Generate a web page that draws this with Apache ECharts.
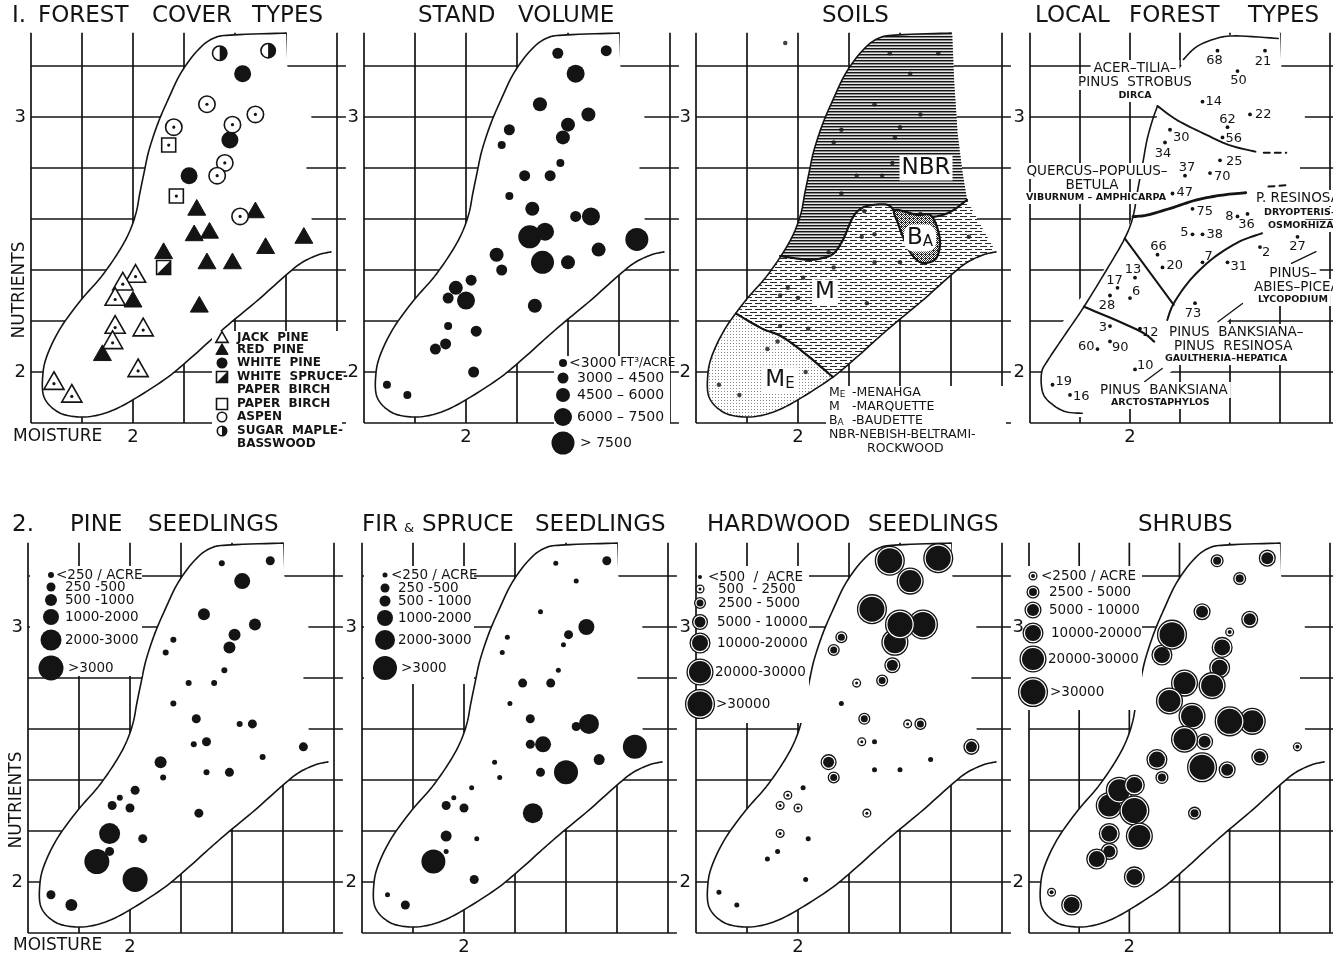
<!DOCTYPE html>
<html>
<head>
<meta charset="utf-8">
<title>Forest cover, stand volume, soils and regeneration on a moisture–nutrient grid</title>
<script src="https://cdn.jsdelivr.net/npm/echarts@6.0.0/dist/echarts.min.js"></script>
<style>
  html, body { margin: 0; padding: 0; background: #fff; }
  #chart { width: 1333px; height: 956px; }
</style>
</head>
<body>
<div id="chart"></div>
<script>
// ---------- axes ----------
const MOISTURE_TICKS = [1.6, 1.8, 2.0, 2.2, 2.4, 2.6, 2.8];
const NUTRIENT_TICKS = [1.8, 2.0, 2.2, 2.4, 2.6, 2.8, 3.0, 3.2];
const MOISTURE_TICK_LABELS = { '2': '2' };
const NUTRIENT_TICK_LABELS = { '2': '2', '3': '3' };

// ---------- outline of the sampled range [moisture, nutrients] ----------
const ENVELOPE = [[2.600,3.329],[2.396,3.322],[2.318,3.310],[2.255,3.263],[2.188,3.173],[2.137,3.067],
  [2.098,2.976],[2.063,2.871],[2.043,2.780],[2.027,2.702],[2.012,2.624],[1.984,2.545],[1.941,2.467],
  [1.875,2.373],[1.796,2.282],[1.718,2.176],[1.667,2.075],[1.647,1.996],[1.651,1.902],[1.706,1.843],
  [1.784,1.824],[1.863,1.831],[1.941,1.859],[2.031,1.910],[2.137,1.980],[2.227,2.055],[2.318,2.137],
  [2.396,2.204],[2.490,2.282],[2.592,2.373],[2.659,2.427],[2.725,2.459],[2.776,2.471]];
const ENVELOPE_CLOSURE = [[2.70,2.60],[2.68,2.80],[2.70,3.00],[2.605,3.20]];

// ---------- 1. forest cover types ----------
const JACK_PINE = [[2.01,2.38],[1.96,2.35],[1.93,2.29],[1.93,2.18],[2.04,2.17],[1.92,2.12],[2.02,2.01],[1.69,1.96],[1.76,1.91]];
const RED_PINE = [[2.25,2.64],[2.48,2.63],[2.24,2.54],[2.30,2.55],[2.12,2.47],[2.67,2.53],[2.52,2.49],[2.29,2.43],[2.39,2.43],[2.26,2.26],[2.00,2.28],[1.88,2.07]];
const WHITE_PINE = [[2.43,3.17],[2.38,2.91],[2.22,2.77]];
const SPRUCE_BIRCH = [[2.12,2.41]];
const PAPER_BIRCH = [[2.14,2.89],[2.17,2.69]];
const ASPEN = [[2.29,3.05],[2.48,3.01],[2.16,2.96],[2.39,2.97],[2.36,2.82],[2.33,2.77],[2.42,2.61]];
const MAPLE_BASSWOOD = [[2.34,3.25],[2.53,3.26]];
const COVER_NAMES = ['JACK PINE','RED PINE','WHITE PINE','WHITE SPRUCE–PAPER BIRCH','PAPER BIRCH','ASPEN','SUGAR MAPLE–BASSWOOD'];
const COVER_DATA = [JACK_PINE, RED_PINE, WHITE_PINE, SPRUCE_BIRCH, PAPER_BIRCH, ASPEN, MAPLE_BASSWOOD];

// ---------- stand volume [moisture, nutrients, class] ----------
const VOLUME_CLASSES = ['<3000', '3000 – 4500', '4500 – 6000', '6000 – 7500', '> 7500'];
const STAND_VOLUME = [[2.36,3.25,1],[2.55,3.26,1],[2.43,3.17,3],[2.29,3.05,2],[2.48,3.01,2],[2.17,2.95,1],[2.14,2.89,0],
  [2.40,2.97,2],[2.38,2.92,2],[2.37,2.82,0],[2.23,2.77,1],[2.33,2.77,1],[2.17,2.69,0],[2.26,2.64,2],[2.43,2.61,1],
  [2.49,2.61,3],[2.25,2.53,4],[2.31,2.55,3],[2.67,2.52,4],[2.12,2.46,2],[2.30,2.43,4],[2.40,2.43,2],[2.52,2.48,2],
  [2.14,2.40,1],[2.02,2.36,1],[1.96,2.33,2],[1.93,2.29,1],[2.00,2.28,3],[2.27,2.26,2],[1.93,2.18,0],[2.04,2.16,1],
  [1.92,2.11,1],[1.88,2.09,1],[2.03,2.00,1],[1.69,1.95,0],[1.77,1.91,0]];

// ---------- soils ----------
const SOIL_PLOTS = [[1.95,3.29],[2.36,3.25],[2.55,3.25],[2.44,3.17],[2.30,3.05],[2.48,3.01],[2.17,2.95],[2.40,2.96],
  [2.38,2.92],[2.14,2.90],[2.37,2.82],[2.23,2.77],[2.33,2.77],[2.17,2.70],[2.26,2.63],[2.48,2.62],[2.25,2.53],
  [2.30,2.54],[2.67,2.53],[2.12,2.47],[2.30,2.43],[2.40,2.43],[2.14,2.41],[2.02,2.37],[1.96,2.33],[1.93,2.30],
  [2.00,2.29],[2.27,2.27],[1.93,2.18],[2.04,2.17],[1.92,2.12],[1.88,2.09],[2.03,2.00],[1.69,1.95],[1.77,1.91]];
const SOIL_RIGHT_EDGE = [[2.72,2.57],[2.663,2.675],[2.642,2.805],[2.626,2.936],[2.613,3.13],[2.605,3.32]];
const NBR_LOWER_EDGE = [[1.93,2.455],[2.04,2.44],[2.10,2.448],[2.14,2.465],[2.176,2.518],[2.216,2.608],[2.251,2.643],
  [2.294,2.655],[2.353,2.655],[2.388,2.624],[2.427,2.624],[2.471,2.608],[2.529,2.608],[2.596,2.627],[2.663,2.675]];
const NBR_RIGHT_EDGE = [[2.642,2.805],[2.626,2.936],[2.613,3.13],[2.605,3.32]];
const MENAHGA_EDGE = [[1.757,2.229],[1.858,2.171],[1.936,2.139],[2.027,2.073],[2.137,1.980]];
const BAUDETTE_OUTLINE = [[2.380,2.635],[2.467,2.616],[2.518,2.616],[2.545,2.569],[2.557,2.506],[2.545,2.451],
  [2.518,2.431],[2.478,2.431],[2.439,2.471],[2.412,2.529],[2.392,2.584]];

// ---------- local forest types [moisture, nutrients, stand number] ----------
const LOCAL_STANDS = [[2.35,3.26,68],[2.54,3.26,21],[2.43,3.18,50],[2.29,3.06,14],[2.39,2.96,62],[2.48,3.01,22],
  [2.37,2.92,56],[2.16,2.95,30],[2.14,2.90,34],[2.36,2.83,25],[2.22,2.77,37],[2.32,2.78,70],[2.17,2.70,47],
  [2.25,2.64,75],[2.43,2.61,8],[2.47,2.62,36],[2.25,2.54,5],[2.29,2.54,38],[2.67,2.53,27],[2.11,2.46,66],
  [2.52,2.49,2],[2.13,2.41,20],[2.29,2.43,7],[2.39,2.43,31],[2.02,2.37,13],[1.95,2.33,17],[2.00,2.29,6],
  [1.92,2.30,28],[2.26,2.27,73],[1.92,2.18,3],[2.04,2.17,12],[1.87,2.09,60],[1.92,2.12,90],[2.02,2.01,10],
  [1.69,1.95,19],[1.76,1.91,16]];
const LFT_TOP_EDGE = [[2.214,3.226],[2.267,3.276],[2.345,3.308],[2.424,3.318],[2.593,3.308]];
const LFT_ACER_EDGE = [[2.502,2.864],[2.397,2.890],[2.293,2.936],[2.188,2.988],[2.110,3.043]];
const LFT_LEFT_EDGE = [[2.110,3.043],[2.090,2.988],[2.068,2.910],[2.051,2.818],[2.032,2.72],[2.012,2.609],
  [1.979,2.524],[1.914,2.413],[1.816,2.256],[1.744,2.152],[1.672,2.047],[1.646,1.995],[1.652,1.916],
  [1.692,1.871],[1.744,1.844],[1.809,1.838]];
const LFT_RESINOSA_EDGE = [[2.012,2.609],[2.071,2.616],[2.162,2.642],[2.267,2.675],[2.371,2.694],[2.463,2.703]];
const LFT_DIVIDE_A = [[1.979,2.524],[2.175,2.263]];
const LFT_DIVIDE_B = [[1.816,2.256],[2.031,2.165],[2.097,2.119]];
const LFT_BANKSIANA_EDGE = [[2.149,2.204],[2.175,2.269],[2.241,2.361],[2.332,2.446],[2.437,2.511],[2.528,2.544]];
const LFT_DASH_UPPER = [[2.535,2.860],[2.625,2.860]];
const LFT_DASH_LOWER = [[2.554,2.727],[2.633,2.733]];
const LFT_LEADERS = [[[2.646,2.426],[2.744,2.472]], [[2.352,2.197],[2.450,2.269]], [[2.058,1.962],[2.129,2.014]]];

// ---------- 2. pine seedlings [moisture, nutrients, class] ----------
const PINE_CLASSES = ['<250 / ACRE', '250 -500', '500 -1000', '1000-2000', '2000-3000', '>3000'];
const PINE_SEEDLINGS = [[2.36,3.25,0],[2.55,3.26,1],[2.44,3.18,3],[2.29,3.05,2],[2.49,3.01,2],[2.17,2.95,0],[2.41,2.97,2],
  [2.39,2.92,2],[2.14,2.90,0],[2.37,2.83,0],[2.23,2.78,0],[2.33,2.78,0],[2.17,2.70,0],[2.26,2.64,1],[2.43,2.62,0],
  [2.48,2.62,1],[2.25,2.54,0],[2.30,2.55,1],[2.68,2.53,1],[2.12,2.47,2],[2.52,2.49,0],[2.13,2.41,0],[2.30,2.43,0],
  [2.39,2.43,1],[2.02,2.36,1],[1.96,2.33,0],[1.93,2.30,1],[2.00,2.29,1],[2.27,2.27,1],[1.92,2.12,1],[1.92,2.19,4],
  [1.87,2.08,5],[2.02,2.01,5],[2.05,2.17,1],[1.69,1.95,1],[1.77,1.91,2]];

// ---------- fir & spruce seedlings ----------
const FIR_CLASSES = ['<250 / ACRE', '250 -500', '500 - 1000', '1000-2000', '2000-3000', '>3000'];
const FIR_SPRUCE_SEEDLINGS = [[2.36,3.25,0],[2.56,3.26,1],[2.44,3.18,0],[2.30,3.06,0],[2.48,3.00,3],[2.41,2.97,1],
  [2.17,2.96,0],[2.39,2.93,0],[2.15,2.90,0],[2.37,2.83,0],[2.23,2.78,1],[2.34,2.78,1],[2.18,2.70,0],[2.26,2.64,1],
  [2.44,2.61,1],[2.49,2.62,4],[2.26,2.54,1],[2.31,2.54,3],[2.67,2.53,5],[2.12,2.47,0],[2.53,2.48,2],[2.40,2.43,5],
  [2.30,2.43,1],[2.14,2.41,0],[2.03,2.37,0],[1.96,2.33,0],[1.93,2.30,1],[2.00,2.29,1],[2.27,2.27,4],[1.93,2.18,2],
  [2.05,2.17,0],[1.93,2.12,0],[1.88,2.08,5],[2.04,2.01,1],[1.70,1.95,0],[1.77,1.91,1]];

// ---------- hardwood seedlings ----------
const HARDWOOD_CLASSES = ['<500  /  ACRE', '500  - 2500', '2500 - 5000', '5000 - 10000', '10000-20000', '20000-30000', '>30000'];
const HARDWOOD_SEEDLINGS = [[2.36,3.26,6],[2.55,3.27,6],[2.44,3.18,5],[2.29,3.07,6],[2.38,2.94,5],[2.49,3.01,6],
  [2.40,3.01,6],[2.17,2.96,2],[2.14,2.91,2],[2.37,2.85,3],[2.23,2.78,1],[2.33,2.79,2],[2.17,2.70,0],[2.26,2.64,2],
  [2.43,2.62,1],[2.48,2.62,2],[2.25,2.55,1],[2.30,2.55,0],[2.68,2.53,3],[2.12,2.47,3],[2.52,2.48,0],[2.30,2.44,0],
  [2.40,2.44,0],[2.14,2.41,2],[2.02,2.37,0],[1.96,2.34,1],[1.93,2.30,1],[2.00,2.29,1],[2.27,2.27,1],[1.93,2.19,1],
  [2.04,2.17,0],[1.92,2.12,0],[1.88,2.09,0],[2.03,2.01,0],[1.69,1.96,0],[1.76,1.91,0]];

// ---------- shrubs ----------
const SHRUB_CLASSES = ['<2500 / ACRE', '2500 - 5000', '5000 - 10000', '10000-20000', '20000-30000', '>30000'];
const SHRUBS = [[2.35,3.26,1],[2.55,3.27,2],[2.44,3.19,1],[2.29,3.06,2],[2.48,3.03,2],[2.40,2.98,0],[2.13,2.89,3],
  [2.17,2.97,5],[2.37,2.92,3],[2.36,2.84,3],[2.22,2.78,4],[2.33,2.77,4],[2.16,2.71,4],[2.25,2.65,4],[2.49,2.63,4],
  [2.40,2.63,5],[2.30,2.55,2],[2.22,2.56,4],[2.67,2.53,0],[2.11,2.48,3],[2.29,2.45,5],[2.52,2.49,2],[2.39,2.44,2],
  [2.13,2.41,1],[1.92,2.30,4],[1.96,2.36,4],[2.02,2.38,3],[2.02,2.28,5],[2.26,2.27,1],[1.92,2.19,3],[2.04,2.18,4],
  [1.92,2.12,2],[1.87,2.09,3],[2.02,2.02,3],[1.69,1.96,0],[1.77,1.91,3]];

// ================= drawing =================
const INK = '#141414';
const FONT = '"DejaVu Sans", "Liberation Sans", Arial, sans-serif';
const font = (size, weight) => (weight || 'normal') + ' ' + size + 'px ' + FONT;

// panel frames: left edge of moisture 1.6, top edge of nutrients 3.4
const PANELS = [
  { left: 31, top: 15 }, { left: 364, top: 15 }, { left: 696, top: 15 }, { left: 1030, top: 15 },
  { left: 28, top: 525 }, { left: 362, top: 525 }, { left: 696, top: 525 }, { left: 1029, top: 525 }
];
const GRID_W = 306, GRID_H = 408;
const GRID_LINE_W = 1.7;

// marker styles
const COVER_MARKS = [
  { kind: 'triOpenDot', size: 18 }, { kind: 'triFill', size: 16 }, { kind: 'circFill', size: 17 },
  { kind: 'sqHalf', size: 14 }, { kind: 'sqOpenDot', size: 14 }, { kind: 'circOpenDot', size: 18 },
  { kind: 'circHalf', size: 16 }
];
const VOLUME_SIZES = [8, 11, 14, 18, 23];
const PINE_SIZES = [6, 9, 12, 16, 21, 25];
const FIR_SIZES = [5, 9, 11, 16, 20, 24];
const HARDWOOD_RINGS = [[5, 0], [9, 3], [12, 7], [16, 11], [21, 16], [27, 22], [30, 25]];
const SHRUB_RINGS = [[9, 4], [13, 8], [17, 12], [21, 16], [27, 22], [30, 25]];

const STAND_NUMBER_PLACEMENT = {
  68:[-3,10,'center'], 21:[-2,11,'center'], 50:[1,10,'center'], 14:[3,0,'left'], 62:[0,-8,'center'],
  22:[5,0,'left'], 56:[3,1,'left'], 30:[3,8,'left'], 34:[-2,11,'center'], 25:[6,1,'left'],
  37:[2,-8,'center'], 70:[4,4,'left'], 47:[4,-1,'left'], 75:[4,3,'left'], 8:[-4,0,'right'],
  36:[-1,11,'center'], 5:[-4,-2,'right'], 38:[4,0,'left'], 27:[0,10,'center'], 66:[1,-8,'center'],
  2:[2,6,'left'], 20:[4,-2,'left'], 7:[2,-6,'left'], 31:[3,4,'left'], 13:[-2,-8,'center'],
  17:[-3,-7,'center'], 6:[2,-6,'left'], 28:[-3,10,'center'], 73:[-2,10,'center'], 3:[-3,2,'right'],
  12:[2,4,'left'], 60:[-3,-2,'right'], 90:[2,6,'left'], 10:[2,-4,'left'], 19:[3,-3,'left'], 16:[3,2,'left']
};

// ---------- fill textures for the soil map ----------
function texture(w, h, paint) {
  const c = document.createElement('canvas');
  c.width = w; c.height = h;
  const g = c.getContext('2d');
  g.fillStyle = '#fff'; g.fillRect(0, 0, w, h);
  g.fillStyle = INK; paint(g);
  return { image: c, repeat: 'repeat' };
}
// Nebish-Beltrami: close horizontal ruling
const NBR_FILL = texture(4, 3, g => { g.fillRect(0, 0, 4, 1); g.fillStyle = '#8a8a8a'; g.fillRect(0, 1, 4, 1); g.fillStyle = '#e6e6e6'; g.fillRect(0, 2, 4, 1); });
// Marquette: staggered dashes
const M_FILL = texture(10, 6, g => { g.fillStyle = '#2a2a2a'; g.fillRect(0, 0, 7, 1); g.fillRect(5, 3, 5, 1); g.fillRect(0, 3, 2, 1); });
// Menahga: fine stipple
const ME_FILL = texture(3, 3, g => { g.fillStyle = '#8a8a8a'; g.fillRect(1, 1, 1, 1); });
// Baudette: dense dark stipple
const BA_FILL = texture(4, 4, g => {
  g.fillStyle = '#2a2a2a';
  [[0,0],[2,0],[1,1],[3,1],[0,2],[1,2],[3,3],[1,3],[2,2]].forEach(p => g.fillRect(p[0], p[1], 1, 1));
});

// ---------- geometry helpers ----------
function spline(pts, steps, closed) {
  steps = steps || 6;
  const n = pts.length;
  if (n < 3) return pts.slice();
  const out = [];
  const segs = closed ? n : n - 1;
  const at = i => closed ? pts[(i + n) % n] : pts[Math.max(0, Math.min(n - 1, i))];
  for (let i = 0; i < segs; i++) {
    const p0 = at(i - 1), p1 = at(i), p2 = at(i + 1), p3 = at(i + 2);
    for (let k = 0; k < steps; k++) {
      const t = k / steps, t2 = t * t, t3 = t2 * t;
      const c = j => 0.5 * (2 * p1[j] + (-p0[j] + p2[j]) * t + (2 * p0[j] - 5 * p1[j] + 4 * p2[j] - p3[j]) * t2 +
        (-p0[j] + 3 * p1[j] - 3 * p2[j] + p3[j]) * t3);
      out.push([c(0), c(1)]);
    }
  }
  if (!closed) out.push(pts[n - 1]);
  return out;
}
const toPx = (api, arr) => arr.map(d => api.coord(d));
const stroke = (points, w, dash) => ({ type: 'polyline', shape: { points }, style: { fill: null, stroke: INK, lineWidth: w, lineDash: dash || null, lineJoin: 'round', lineCap: 'round' } });

function markerShapes(kind, x, y, s, inner) {
  const r = s / 2, lw = 1.6, white = '#fff';
  const tri = [[x, y - s * 0.58], [x + s * 0.56, y + s * 0.40], [x - s * 0.56, y + s * 0.40]];
  const dot = (cx, cy, rr) => ({ type: 'circle', shape: { cx, cy, r: rr }, style: { fill: INK } });
  const circOpen = () => ({ type: 'circle', shape: { cx: x, cy: y, r: r - lw / 2 }, style: { fill: white, stroke: INK, lineWidth: lw } });
  const sqOpen = () => ({ type: 'rect', shape: { x: x - r, y: y - r, width: s, height: s }, style: { fill: white, stroke: INK, lineWidth: lw } });
  switch (kind) {
    case 'triOpen': return [{ type: 'polygon', shape: { points: tri }, style: { fill: white, stroke: INK, lineWidth: lw } }];
    case 'triOpenDot': return [{ type: 'polygon', shape: { points: tri }, style: { fill: white, stroke: INK, lineWidth: lw } }, dot(x, y + s * 0.08, 1.6)];
    case 'triFill': return [{ type: 'polygon', shape: { points: tri }, style: { fill: INK, stroke: INK, lineWidth: 1 } }];
    case 'circFill': return [dot(x, y, r)];
    case 'circOpen': return [circOpen()];
    case 'circOpenDot': return [circOpen(), dot(x, y, 1.6)];
    case 'sqOpen': return [sqOpen()];
    case 'sqOpenDot': return [sqOpen(), dot(x, y, 1.6)];
    case 'sqHalf': return [sqOpen(), { type: 'polygon', shape: { points: [[x + r, y - r], [x + r, y + r], [x - r, y + r]] }, style: { fill: INK } }];
    case 'circHalf': return [circOpen(), { type: 'sector', shape: { cx: x, cy: y, r0: 0, r: r - lw / 2, startAngle: -Math.PI / 2, endAngle: Math.PI / 2, clockwise: true }, style: { fill: INK } }];
    case 'dot': return [dot(x, y, r)];
    case 'ring':
      if (!inner) return [dot(x, y, r)];
      return [{ type: 'circle', shape: { cx: x, cy: y, r: r - 0.6 }, style: { fill: white, stroke: INK, lineWidth: 1.3 } }, dot(x, y, inner / 2)];
  }
  return [];
}

// ---------- series builders ----------
function gridLineSeries(i) {
  return {
    type: 'custom', xAxisIndex: i, yAxisIndex: i, z: 1, silent: true, data: [[2, 2]],
    renderItem: (p, api) => {
      const children = [];
      NUTRIENT_TICKS.forEach(n => {
        const a = api.coord([1.6, n]), b = api.coord([2.835, n]);
        children.push({ type: 'line', shape: { x1: a[0], y1: a[1], x2: b[0], y2: b[1] }, style: { stroke: INK, lineWidth: GRID_LINE_W } });
      });
      MOISTURE_TICKS.forEach(m => {
        const a = api.coord([m, 1.8]), b = api.coord([m, 3.33]);
        children.push({ type: 'line', shape: { x1: a[0], y1: a[1], x2: b[0], y2: b[1] }, style: { stroke: INK, lineWidth: GRID_LINE_W } });
      });
      return { type: 'group', children };
    }
  };
}

function envelopeSeries(i, drawOutline) {
  return {
    type: 'custom', xAxisIndex: i, yAxisIndex: i, z: 2, silent: true, data: [[2, 2]],
    renderItem: (p, api) => {
      const edge = spline(toPx(api, ENVELOPE), 8);
      const mask = edge.concat(toPx(api, ENVELOPE_CLOSURE));
      const children = [{ type: 'polygon', shape: { points: mask }, style: { fill: '#fff' } }];
      if (drawOutline) children.push(stroke(edge, 1.6));
      return { type: 'group', children };
    }
  };
}

function soilSeries(i) {
  return {
    type: 'custom', xAxisIndex: i, yAxisIndex: i, z: 2, silent: true, data: [[2, 2]],
    renderItem: (p, api) => {
      const edge = spline(toPx(api, ENVELOPE), 8);
      const whole = edge.concat(toPx(api, SOIL_RIGHT_EDGE));
      const nbrLower = spline(toPx(api, NBR_LOWER_EDGE), 8);
      const nbr = spline(toPx(api, ENVELOPE.slice(0, 13)), 8).concat(nbrLower, toPx(api, NBR_RIGHT_EDGE));
      const meEdge = spline(toPx(api, MENAHGA_EDGE), 8);
      const me = meEdge.concat(spline(toPx(api, ENVELOPE.slice(15, 25)), 8).reverse());
      const ba = spline(toPx(api, BAUDETTE_OUTLINE), 8, true);
      return {
        type: 'group', children: [
          { type: 'polygon', shape: { points: whole }, style: { fill: M_FILL } },
          { type: 'polygon', shape: { points: me }, style: { fill: ME_FILL } },
          { type: 'polygon', shape: { points: nbr }, style: { fill: NBR_FILL } },
          stroke(nbrLower, 2.2),
          stroke(meEdge, 2.2),
          { type: 'polygon', shape: { points: ba }, style: { fill: BA_FILL, stroke: INK, lineWidth: 2.2 } },
          stroke(edge, 1.6)
        ]
      };
    }
  };
}

function localLinesSeries(i) {
  const lines = [
    [LFT_TOP_EDGE, 1.6], [LFT_ACER_EDGE, 1.9], [LFT_LEFT_EDGE, 1.6], [LFT_RESINOSA_EDGE, 2.8],
    [LFT_DIVIDE_A, 2.0], [LFT_DIVIDE_B, 2.2], [LFT_BANKSIANA_EDGE, 2.0],
    [LFT_DASH_UPPER, 2.0, [6, 5]], [LFT_DASH_LOWER, 2.0, [6, 5]]
  ].concat(LFT_LEADERS.map(l => [l, 1.3]));
  return {
    type: 'custom', xAxisIndex: i, yAxisIndex: i, z: 3, silent: true, data: [[2, 2]],
    renderItem: (p, api) => ({
      type: 'group',
      children: lines.map(l => stroke(spline(toPx(api, l[0]), 8), l[1], l[2]))
    })
  };
}

function markerSeries(i, data, kind, size) {
  return {
    type: 'custom', xAxisIndex: i, yAxisIndex: i, z: 4, silent: true, data,
    renderItem: (p, api) => {
      const c = api.coord([api.value(0), api.value(1)]);
      return { type: 'group', children: markerShapes(kind, c[0], c[1], size) };
    }
  };
}

function ringSeries(i, data, rings) {
  return {
    type: 'custom', xAxisIndex: i, yAxisIndex: i, z: 4, silent: true, data,
    renderItem: (p, api) => {
      const c = api.coord([api.value(0), api.value(1)]);
      const ring = rings[api.value(2)];
      return { type: 'group', children: markerShapes('ring', c[0], c[1], ring[0], ring[1]) };
    }
  };
}

function bubbleSeries(i, data, sizes) {
  return {
    type: 'scatter', xAxisIndex: i, yAxisIndex: i, z: 4, silent: true, clip: false, data,
    symbol: 'circle', symbolSize: v => sizes[v[2]],
    itemStyle: { color: INK, opacity: 1 }, emphasis: { disabled: true }
  };
}

function standNumberSeries(i) {
  return {
    type: 'custom', xAxisIndex: i, yAxisIndex: i, z: 4, silent: true, data: LOCAL_STANDS,
    renderItem: (p, api) => {
      const c = api.coord([api.value(0), api.value(1)]);
      const id = api.value(2);
      const pl = STAND_NUMBER_PLACEMENT[id] || [4, 0, 'left'];
      return {
        type: 'group', children: [
          { type: 'circle', shape: { cx: c[0], cy: c[1], r: 1.9 }, style: { fill: INK } },
          { type: 'text', x: c[0] + pl[0], y: c[1] + pl[1],
            style: { text: String(id), font: font(13), fill: INK, align: pl[2], textAlign: pl[2], verticalAlign: 'middle', textVerticalAlign: 'middle' } }
        ]
      };
    }
  };
}

const series = [];
for (let i = 0; i < 8; i++) series.push(gridLineSeries(i));
[0, 1, 4, 5, 6, 7].forEach(i => series.push(envelopeSeries(i, true)));
series.push(envelopeSeries(3, false));
series.push(soilSeries(2));
series.push(localLinesSeries(3));
COVER_DATA.forEach((d, k) => {
  const s = markerSeries(0, d, COVER_MARKS[k].kind, COVER_MARKS[k].size);
  s.name = COVER_NAMES[k];
  series.push(s);
});
series.push(bubbleSeries(1, STAND_VOLUME, VOLUME_SIZES));
series.push({ type: 'scatter', xAxisIndex: 2, yAxisIndex: 2, z: 4, silent: true, clip: false, data: SOIL_PLOTS,
  symbolSize: 4.5, itemStyle: { color: INK }, emphasis: { disabled: true } });
series.push(standNumberSeries(3));
series.push(bubbleSeries(4, PINE_SEEDLINGS, PINE_SIZES));
series.push(bubbleSeries(5, FIR_SPRUCE_SEEDLINGS, FIR_SIZES));
series.push(ringSeries(6, HARDWOOD_SEEDLINGS, HARDWOOD_RINGS));
series.push(ringSeries(7, SHRUBS, SHRUB_RINGS));

// ---------- titles, keys and region names ----------
const G = [];
function text(x, y, str, size, opt) {
  opt = opt || {};
  const al = opt.align || 'left';
  const style = { text: str, font: font(size, opt.weight), fill: INK, align: al, textAlign: al,
    verticalAlign: 'middle', textVerticalAlign: 'middle' };
  if (opt.bg) { style.backgroundColor = '#fff'; style.padding = opt.pad || [1, 3]; if (opt.radius) style.borderRadius = opt.radius; }
  if (opt.rich) style.rich = opt.rich;
  G.push({ type: 'text', x, y, rotation: opt.rotation || 0, z: 30, silent: true, style });
}
function box(x, y, w, h) {
  G.push({ type: 'rect', shape: { x, y, width: w, height: h }, style: { fill: '#fff' }, z: 25, silent: true });
}
function icon(kind, x, y, s, inner) {
  markerShapes(kind, x, y, s, inner).forEach(e => { e.z = 31; e.silent = true; G.push(e); });
}

const TITLE_WORDS = [
  ['I.', 12, 16], ['FOREST', 38, 16], ['COVER', 152, 16], ['TYPES', 252, 16],
  ['STAND', 418, 16], ['VOLUME', 518, 16], ['SOILS', 822, 16],
  ['LOCAL', 1035, 16], ['FOREST', 1129, 16], ['TYPES', 1248, 16],
  ['2.', 12, 525], ['PINE', 70, 525], ['SEEDLINGS', 148, 525],
  ['FIR', 362, 525], ['SPRUCE', 422, 525], ['SEEDLINGS', 535, 525],
  ['HARDWOOD', 707, 525], ['SEEDLINGS', 868, 525], ['SHRUBS', 1138, 525]
];
TITLE_WORDS.forEach(w => text(w[1], w[2], w[0], 23));
text(409, 529, '&', 13, { align: 'center' });

text(13, 437, 'MOISTURE', 17);
text(13, 946, 'MOISTURE', 17);
text(20, 290, 'NUTRIENTS', 17, { align: 'center', rotation: Math.PI / 2 });
text(17, 800, 'NUTRIENTS', 17, { align: 'center', rotation: Math.PI / 2 });

// key: forest cover types
box(212, 331, 130, 124);
const coverKey = [
  ['triOpen', 338, ['JACK  PINE']], ['triFill', 350, ['RED  PINE']], ['circFill', 363, ['WHITE  PINE']],
  ['sqHalf', 377, ['WHITE  SPRUCE-', 'PAPER  BIRCH']], ['sqOpen', 404, ['PAPER  BIRCH']],
  ['circOpen', 417, ['ASPEN']], ['circHalf', 431, ['SUGAR  MAPLE-', 'BASSWOOD']]
];
coverKey.forEach(k => {
  icon(k[0], 222, k[1], 11);
  k[2].forEach((t, j) => text(237, k[1] + j * 13, t, 12, { weight: 'bold' }));
});

// key: stand volume
box(554, 356, 116, 100);
const volRows = [363, 378, 395, 417, 443];
const volTextX = [569, 577, 577, 577, 580];
VOLUME_CLASSES.forEach((c, k) => {
  icon('dot', 563, volRows[k], VOLUME_SIZES[k]);
  if (k === 0) text(volTextX[k], volRows[k], '{a|' + c + '}{b| FT³/ACRE}', 14, { rich: { a: { font: font(14) }, b: { font: font(12) } } });
  else text(volTextX[k], volRows[k], c, 14);
});

// key: soils
box(826, 386, 180, 70);
const small = { a: { font: font(12.5), verticalAlign: 'bottom' }, b: { font: font(9), verticalAlign: 'bottom' } };
text(829, 393, '{a|M}{b|E}', 12.5, { rich: small }); text(852, 393, '-MENAHGA', 12.5);
text(829, 407, 'M', 12.5); text(852, 407, '-MARQUETTE', 12.5);
text(829, 421, '{a|B}{b|A}', 12.5, { rich: small }); text(852, 421, '-BAUDETTE', 12.5);
text(829, 435, 'NBR-NEBISH-BELTRAMI-', 12.5);
text(867, 449, 'ROCKWOOD', 12.5);
// soil region names
const big = { a: { font: font(23), verticalAlign: 'bottom' }, b: { font: font(15), verticalAlign: 'bottom' } };
text(926, 168, 'NBR', 23, { align: 'center', bg: true, pad: [1, 2] });
text(825, 292, 'M', 23, { align: 'center', bg: true, pad: [1, 3] });
text(780, 380, '{a|M}{b|E}', 23, { align: 'center', bg: true, pad: [1, 3], rich: big });
text(920, 238, '{a|B}{b|A}', 23, { align: 'center', bg: true, pad: [2, 3], radius: 9, rich: big });

// local forest type names
const lft = [
  [1135, 68, 'ACER–TILIA–', 13.5, 'center'], [1135, 82, 'PINUS  STROBUS', 13.5, 'center'], [1135, 96, 'DIRCA', 9.5, 'center', 'bold'],
  [1097, 171, 'QUERCUS–POPULUS–', 13.5, 'center'], [1092, 185, 'BETULA', 13.5, 'center'], [1096, 198, 'VIBURNUM – AMPHICARPA', 9.5, 'center', 'bold'],
  [1253, 198, 'P. RESINOSA', 13.5, 'left'], [1261, 213, 'DRYOPTERIS–', 9.5, 'left', 'bold'], [1265, 226, 'OSMORHIZA', 9.5, 'left', 'bold'],
  [1293, 273, 'PINUS–', 13.5, 'center'], [1251, 287, 'ABIES–PICEA', 13.5, 'left'], [1293, 300, 'LYCOPODIUM', 9.5, 'center', 'bold'],
  [1166, 332, 'PINUS  BANKSIANA–', 13.5, 'left'], [1171, 346, 'PINUS  RESINOSA', 13.5, 'left'], [1162, 359, 'GAULTHERIA–HEPATICA', 9.5, 'left', 'bold'],
  [1097, 390, 'PINUS  BANKSIANA', 13.5, 'left'], [1108, 403, 'ARCTOSTAPHYLOS', 9.5, 'left', 'bold']
];
lft.forEach(l => text(l[0], l[1], l[2], l[3], { align: l[4], weight: l[5], bg: true, pad: [1, 3] }));

// keys: seedlings and shrubs
function sizeKey(bx, cx, rows, textX, labels, draw) {
  box(bx[0], bx[1], bx[2], bx[3]);
  labels.forEach((lab, k) => { draw(k, cx, rows[k]); text(textX[k], rows[k], lab, 13.5); });
}
sizeKey([30, 566, 112, 110], 51, [575, 587, 600, 617, 640, 668], [56, 65, 65, 65, 65, 68], PINE_CLASSES,
  (k, x, y) => icon('dot', x, y, PINE_SIZES[k]));
sizeKey([364, 566, 110, 118], 385, [575, 588, 601, 618, 640, 668], [391, 398, 398, 398, 398, 401], FIR_CLASSES,
  (k, x, y) => icon('dot', x, y, FIR_SIZES[k]));
sizeKey([697, 566, 112, 157], 700, [577, 589, 603, 622, 643, 672, 704], [708, 718, 718, 717, 717, 715, 716], HARDWOOD_CLASSES,
  (k, x, y) => k === 0 ? icon('dot', x, y, 4) : icon('ring', x, y, HARDWOOD_RINGS[k][0], HARDWOOD_RINGS[k][1]));
sizeKey([1028, 566, 114, 144], 1033, [576, 592, 610, 633, 659, 692], [1041, 1049, 1049, 1051, 1048, 1050], SHRUB_CLASSES,
  (k, x, y) => icon('ring', x, y, SHRUB_RINGS[k][0], SHRUB_RINGS[k][1]));

// ---------- option ----------
const tickFmt = map => v => map[String(Math.round(v * 10) / 10)] || '';
const option = {
  animation: false,
  backgroundColor: '#fff',
  grid: PANELS.map(p => ({ left: p.left, top: p.top, width: GRID_W, height: GRID_H, show: false })),
  xAxis: PANELS.map((p, i) => ({
    type: 'value', gridIndex: i, min: 1.6, max: 2.8, interval: 0.2,
    axisLine: { show: false }, axisTick: { show: false }, splitLine: { show: false },
    axisLabel: { interval: 0, margin: 5, fontSize: 18, fontFamily: FONT, color: INK, formatter: tickFmt(MOISTURE_TICK_LABELS) }
  })),
  yAxis: PANELS.map((p, i) => ({
    type: 'value', gridIndex: i, min: 1.8, max: 3.4, interval: 0.2,
    axisLine: { show: false }, axisTick: { show: false }, splitLine: { show: false },
    axisLabel: { interval: 0, margin: 5, fontSize: 18, fontFamily: FONT, color: INK, formatter: tickFmt(NUTRIENT_TICK_LABELS) }
  })),
  series,
  graphic: { elements: G }
};

const chart = echarts.init(document.getElementById('chart'), null, { renderer: 'canvas' });
chart.setOption(option);
</script>
</body>
</html>
